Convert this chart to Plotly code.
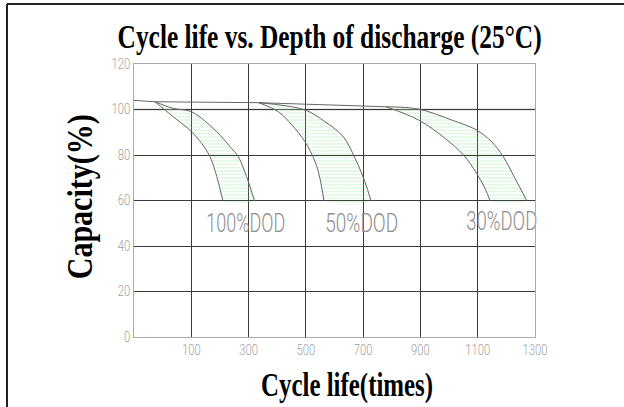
import plotly.graph_objects as go

# ---- data ----
dod_labels = ["100%DOD", "50%DOD", "30%DOD"]

baseline_x = [-100, -27, 335, 780]
baseline_y = [104, 103.4, 103, 101.2]

upper100_x = [-27, 37, 101, 189, 235, 264, 293, 320]
upper100_y = [103.4, 100.5, 99, 90.2, 83.7, 79.3, 70.5, 60]
lower100_x = [-27, 37, 101, 136, 165, 189, 210]
lower100_y = [103.4, 96.8, 90.2, 85.1, 79.3, 70.5, 60]

upper50_x = [335, 497, 567, 631, 672, 706, 727]
upper50_y = [103, 99.8, 94.6, 88.0, 78.5, 68.3, 60]
lower50_x = [335, 404, 451, 497, 532, 549, 563]
lower50_y = [103, 99.0, 93.2, 85.8, 77.1, 69.8, 60]

upper30_x = [780, 893, 1009, 1096, 1149, 1189, 1230, 1271]
upper30_y = [101.2, 100.2, 95.4, 91, 85.8, 79.3, 69.8, 60]
lower30_x = [780, 893, 986, 1050, 1096, 1125, 1143]
lower30_y = [101.2, 95.4, 87.3, 80, 72, 65.4, 60]

label_x = [290, 695, 1184]
label_y = [49, 49, 50]

x_ticks = [100, 300, 500, 700, 900, 1100, 1300]
y_ticks = [0, 20, 40, 60, 80, 100, 120]

# ---- layout helpers ----
W, H = 624, 407
L, R, T, B = 134, 535, 64, 337


def px(x):
    return (x - L) / (R - L)


def py(y):
    return (B - y) / (B - T)


fig = go.Figure()

line_col = "#666666"
bands = [(upper100_x, upper100_y, lower100_x, lower100_y),
         (upper50_x, upper50_y, lower50_x, lower50_y),
         (upper30_x, upper30_y, lower30_x, lower30_y)]

for ux, uy, lx, ly in bands:
    poly_x = list(ux) + list(reversed(lx))
    poly_y = list(uy) + list(reversed(ly))
    fig.add_trace(go.Scatter(
        x=poly_x, y=poly_y, mode="lines", fill="toself",
        fillcolor="rgba(255,255,255,0)",
        fillpattern=dict(shape="-", fgcolor="#9ee99e", bgcolor="rgba(255,255,255,0)",
                         size=3.4, solidity=0.3),
        line=dict(width=0), line_shape="spline", hoverinfo="skip", showlegend=False))
    fig.add_trace(go.Scatter(x=ux, y=uy, mode="lines", line=dict(color=line_col, width=1),
                             line_shape="spline", showlegend=False, hoverinfo="skip"))
    fig.add_trace(go.Scatter(x=lx, y=ly, mode="lines", line=dict(color=line_col, width=1),
                             line_shape="spline", showlegend=False, hoverinfo="skip"))

fig.add_trace(go.Scatter(x=baseline_x, y=baseline_y, mode="lines",
                         line=dict(color=line_col, width=1), showlegend=False, hoverinfo="skip"))

fig.add_trace(go.Scatter(x=label_x, y=label_y, mode="text", text=dod_labels, cliponaxis=False,
                         textfont=dict(family="Roboto, Arial", size=25, color="#8e8e8e", weight=300),
                         showlegend=False, hoverinfo="skip"))

tickfont = dict(family="Roboto, Arial", size=14, color="#a0a0a0", weight=300)

fig.update_xaxes(range=[-100, 1300], tickvals=x_ticks, ticktext=[str(v) for v in x_ticks],
                 showgrid=True, gridcolor="#3a3a3a", gridwidth=1, zeroline=False,
                 showline=True, linecolor="#aaaaaa", linewidth=1, mirror=True,
                 ticks="", tickfont=tickfont)
fig.update_yaxes(range=[0, 120], tickvals=y_ticks, ticktext=[str(v) for v in y_ticks],
                 showgrid=True, gridcolor="#3a3a3a", gridwidth=1, zeroline=False,
                 showline=True, linecolor="#aaaaaa", linewidth=1, mirror=True,
                 ticks="", tickfont=tickfont)

serif = "Liberation Serif, Times New Roman, serif"
fig.update_layout(
    width=W, height=H,
    margin=dict(l=L, r=W - R, t=T, b=H - B),
    plot_bgcolor="white", paper_bgcolor="white",
    annotations=[
        dict(text="Cycle life vs. Depth of discharge (25°C)", x=px(329), y=py(38),
             xref="paper", yref="paper", showarrow=False, xanchor="center", yanchor="middle",
             font=dict(family=serif, size=33, color="black", weight="bold")),
        dict(text="Cycle life(times)", x=px(347), y=py(385),
             xref="paper", yref="paper", showarrow=False, xanchor="center", yanchor="middle",
             font=dict(family=serif, size=33, color="black", weight="bold")),
        dict(text="Capacity(%)", x=px(80), y=py(197), textangle=-90,
             xref="paper", yref="paper", showarrow=False, xanchor="center", yanchor="middle",
             font=dict(family=serif, size=35, color="black", weight="bold")),
    ],
    shapes=[
        dict(type="line", xref="x", yref="y", x0=-100, y0=100, x1=1300, y1=100, layer="below",
             line=dict(color="#9a9a9a", width=1.5)),
        dict(type="line", xref="paper", yref="paper", x0=px(7), y0=py(4), x1=px(625), y1=py(4),
             line=dict(color="#222222", width=2)),
        dict(type="line", xref="paper", yref="paper", x0=px(7), y0=py(4), x1=px(7), y1=py(408),
             line=dict(color="#222222", width=2)),
    ],
)

post_js = """
document.body.style.margin = '0';
var gd = document.getElementById('{plot_id}');
function sq(el, len) {
  el.setAttribute('textLength', len);
  el.setAttribute('lengthAdjust', 'spacingAndGlyphs');
}
var ann = gd.querySelectorAll('.annotation-text');
var annLen = [424, 172, 165];
for (var i = 0; i < ann.length && i < annLen.length; i++) { sq(ann[i], annLen[i]); }
gd.querySelectorAll('.xtick text, .ytick text').forEach(function (t) {
  sq(t, t.getComputedTextLength() * 0.8);
});
var lab = gd.querySelectorAll('.textpoint text');
var labLen = [79, 73, 71];
for (var j = 0; j < lab.length && j < labLen.length; j++) { sq(lab[j], labLen[j]); }
"""

fig.write_html("out.html", post_script=post_js, config={"displayModeBar": False})
